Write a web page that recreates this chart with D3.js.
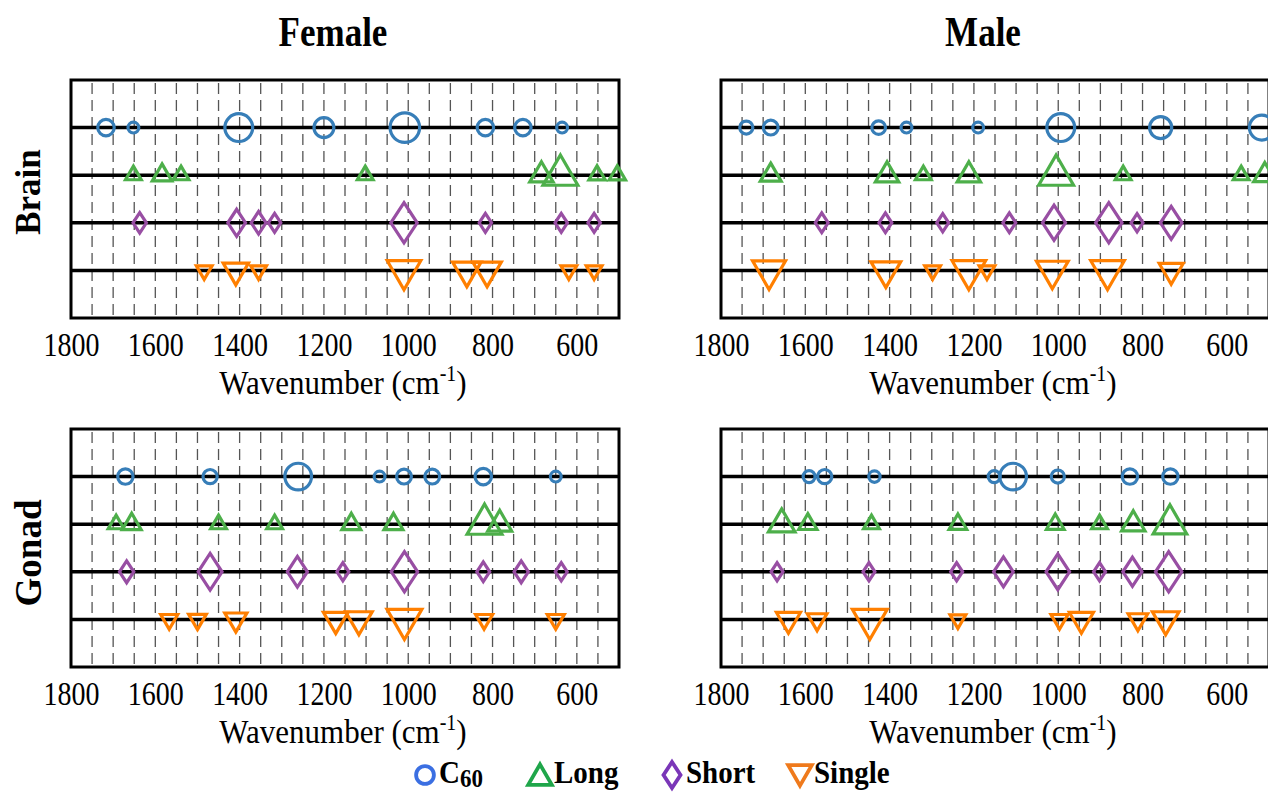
<!DOCTYPE html>
<html>
<head>
<meta charset="utf-8">
<script src="https://cdn.jsdelivr.net/npm/d3@7"></script>
<style>
  body { margin: 0; background: #fff; }
</style>
</head>
<body>
<div id="chart"></div>
<script>
const W = 1268, H = 792;
const serifFont = '"Liberation Serif", "Tinos", "Times New Roman", serif';

const xDomain = [1800, 500];
const xTicks = [1800, 1600, 1400, 1200, 1000, 800, 600];
const gridValues = d3.range(1750, 549, -50);
const seriesNames = ["C60", "Long", "Short", "Single"];
const seriesRow = [4, 3, 2, 1];
const markerColors = ["#377eb8", "#4daf4a", "#984ea3", "#ff7f00"];
const legendColors = ["#3b6fe2", "#1fa64a", "#7a36b8", "#ef7a1c"];

// [wavenumber, marker size]
const femaleBrainC60 = [[1717, 2], [1652, 1], [1402, 4], [1200, 2.6], [1008, 4.3], [817, 2], [728, 2], [635, 1]];
const femaleBrainLong = [[1652, 1], [1584, 1.6], [1539, 1], [1102, 1], [684, 2.2], [639, 4], [552, 1.1], [504, 1.1]];
const femaleBrainShort = [[1637, 1.3], [1407, 2.2], [1355, 1.6], [1317, 1.1], [1010, 4], [817, 1.1], [637, 1.1], [559, 1.1]];
const femaleBrainSingle = [[1484, 1], [1409, 2.5], [1355, 1], [1010, 3.8], [861, 3], [813, 3], [619, 1], [559, 1]];

const maleBrainC60 = [[1740, 1.4], [1682, 1.7], [1426, 1.5], [1360, 1], [1190, 1], [994, 4], [757, 3], [517, 3.5]];
const maleBrainLong = [[1682, 1.8], [1406, 2.2], [1320, 1], [1212, 2.2], [1005, 4], [846, 1], [566, 1], [510, 2]];
const maleBrainShort = [[1561, 1.2], [1410, 1.2], [1274, 1], [1116, 1.2], [1010, 3.3], [880, 4], [813, 1], [732, 3]];
const maleBrainSingle = [[1686, 3.7], [1409, 3.2], [1298, 1], [1212, 3.8], [1169, 1], [1014, 3.5], [883, 3.8], [732, 2.3]];

const femaleGonadC60 = [[1671, 1.8], [1470, 1.6], [1261, 3.8], [1068, 1], [1010, 1.7], [943, 1.7], [822, 2], [650, 1]];
const femaleGonadLong = [[1693, 1], [1656, 1.5], [1450, 1], [1317, 1], [1135, 1.5], [1035, 1.5], [819, 4], [783, 2.3]];
const femaleGonadShort = [[1668, 1.5], [1470, 3.5], [1263, 2.7], [1155, 1], [1009, 4], [822, 1.2], [732, 1.5], [637, 1]];
const femaleGonadSingle = [[1567, 1.2], [1500, 1.3], [1409, 2], [1172, 2.4], [1117, 2.7], [1009, 4], [820, 1.2], [650, 1.2]];

const maleGonadC60 = [[1591, 1.2], [1554, 1.6], [1436, 1.1], [1152, 1.2], [1107, 3.8], [1001, 1.4], [830, 1.8], [734, 1.8]];
const maleGonadLong = [[1656, 2.7], [1594, 1.4], [1443, 1], [1238, 1.3], [1007, 1.3], [902, 1], [822, 2.2], [735, 3.8]];
const maleGonadShort = [[1667, 1], [1449, 1], [1241, 1], [1130, 2.6], [1001, 3.4], [902, 1], [824, 2.5], [738, 4]];
const maleGonadSingle = [[1640, 2.3], [1572, 1.6], [1447, 4], [1238, 1], [997, 1.2], [945, 2.3], [811, 1.6], [745, 2.7]];

const panels = [
  { x0: 71, y0: 80, series: [femaleBrainC60, femaleBrainLong, femaleBrainShort, femaleBrainSingle] },
  { x0: 721, y0: 80, series: [maleBrainC60, maleBrainLong, maleBrainShort, maleBrainSingle] },
  { x0: 71, y0: 429, series: [femaleGonadC60, femaleGonadLong, femaleGonadShort, femaleGonadSingle] },
  { x0: 721, y0: 429, series: [maleGonadC60, maleGonadLong, maleGonadShort, maleGonadSingle] }
];
const pw = 548, ph = 238;

const sizeScale = d3.scaleLinear().domain([1, 4]).range([7, 15.5]);

const svg = d3.select("#chart").append("svg")
  .attr("width", W).attr("height", H);

function markerPath(kind, r) {
  const p = d3.path();
  if (kind === 0) {
    const rr = r - 1.6;
    p.moveTo(rr, 0);
    p.arc(0, 0, rr, 0, Math.PI * 2);
  } else if (kind === 1 || kind === 3) {
    const s = 2.25 * r, h = 0.866 * s;
    const dir = kind === 1 ? 1 : -1;
    p.moveTo(0, -dir * 2 * h / 3);
    p.lineTo(s / 2, dir * h / 3);
    p.lineTo(-s / 2, dir * h / 3);
    p.closePath();
  } else {
    const hh = 1.3 * r, hw = 0.85 * r;
    p.moveTo(0, -hh);
    p.lineTo(hw, 0);
    p.lineTo(0, hh);
    p.lineTo(-hw, 0);
    p.closePath();
  }
  return p.toString();
}

// text with slight vertical stretch, like the reference
function sText(g, x, y, size, weight, anchor, sy) {
  return g.append("text")
    .attr("transform", `translate(${x},${y}) scale(1,${sy})`)
    .attr("font-size", size)
    .attr("font-weight", weight)
    .attr("text-anchor", anchor);
}

panels.forEach(pn => {
  const x = d3.scaleLinear().domain(xDomain).range([pn.x0, pn.x0 + pw]);
  const y = d3.scaleLinear().domain([0, 5]).range([pn.y0 + ph, pn.y0]);
  const g = svg.append("g");

  g.selectAll(".grid").data(gridValues).enter().append("line")
    .attr("x1", d => x(d)).attr("x2", d => x(d))
    .attr("y1", pn.y0 + 3).attr("y2", pn.y0 + ph - 2)
    .attr("stroke", "#555").attr("stroke-width", 1.3)
    .attr("stroke-dasharray", "11,6");

  g.selectAll(".row").data(seriesRow).enter().append("line")
    .attr("x1", pn.x0).attr("x2", pn.x0 + pw)
    .attr("y1", d => y(d)).attr("y2", d => y(d))
    .attr("stroke", "#000").attr("stroke-width", 3.5);

  g.append("rect")
    .attr("x", pn.x0).attr("y", pn.y0)
    .attr("width", pw).attr("height", ph)
    .attr("fill", "none").attr("stroke", "#000").attr("stroke-width", 3);

  pn.series.forEach((pts, si) => {
    g.selectAll(null).data(pts).enter().append("path")
      .attr("d", d => markerPath(si, sizeScale(d[1])))
      .attr("transform", d => `translate(${x(d[0])},${y(seriesRow[si])})`)
      .attr("fill", "none")
      .attr("stroke", markerColors[si])
      .attr("stroke-width", 3.2)
      .attr("stroke-linejoin", "miter");
  });

  // tick labels
  const ax = g.append("g")
    .attr("transform", `translate(0,${pn.y0 + ph + 38})`)
    .call(d3.axisBottom(x).tickValues(xTicks).tickSize(0).tickFormat(d3.format("d")));
  ax.select(".domain").remove();
  ax.selectAll("text")
    .attr("y", 0).attr("dy", 0)
    .attr("transform", "scale(1,1.2)")
    .attr("font-size", 28)
    .attr("fill", "#000");

  const lab = sText(g, pn.x0 + pw / 2 - 2, pn.y0 + ph + 76, 31, "normal", "middle", 1.12);
  lab.append("tspan").text("Wavenumber (cm");
  lab.append("tspan").text("-1").attr("font-size", 20).attr("dy", -12);
  lab.append("tspan").text(")").attr("dy", 12);
});

// column titles
sText(svg, 333, 46, 35, "bold", "middle", 1.18).text("Female");
sText(svg, 983, 46, 35, "bold", "middle", 1.18).text("Male");

// row titles
svg.append("text").attr("transform", "translate(40,192) rotate(-90)")
  .attr("font-size", 35).attr("font-weight", "bold").attr("text-anchor", "middle").text("Brain");
svg.append("text").attr("transform", "translate(41,553) rotate(-90)")
  .attr("font-size", 37).attr("font-weight", "bold").attr("text-anchor", "middle").text("Gonad");

// legend
const legendX = [425, 540, 672, 800];
const lg = svg.append("g");
seriesNames.forEach((name, i) => {
  lg.append("path")
    .attr("d", markerPath(i, i === 2 ? 10 : 10.5))
    .attr("transform", `translate(${legendX[i]},${i === 1 ? 778 : i === 3 ? 772 : 775})`)
    .attr("fill", "none").attr("stroke", legendColors[i]).attr("stroke-width", 3.8);
  const t = sText(lg, legendX[i] + 14, 783, 29, "bold", "start", 1.1);
  if (name === "C60") {
    t.append("tspan").text("C");
    t.append("tspan").text("60").attr("font-size", 23).attr("dy", 4);
  } else {
    t.text(name);
  }
});

svg.selectAll("text").style("font-family", serifFont).style("fill", "#000");
</script>
</body>
</html>
